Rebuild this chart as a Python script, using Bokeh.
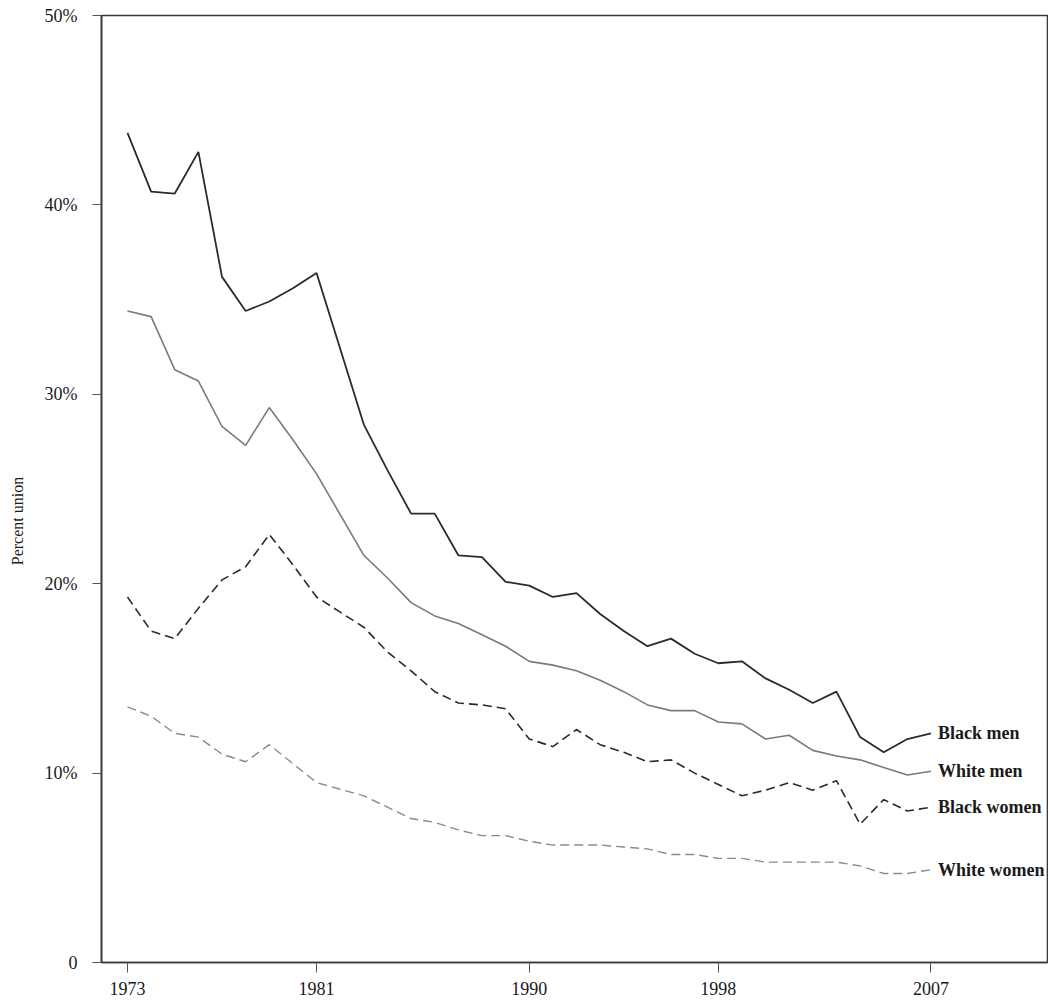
from bokeh.plotting import figure
from bokeh.models import FixedTicker, Range1d, ColumnDataSource
from bokeh.embed import file_html
from bokeh.resources import INLINE
from bokeh.core.properties import value

years = [1973, 1974, 1975, 1976, 1977, 1978, 1979, 1980, 1981,
         1983, 1984, 1985, 1986, 1987, 1988, 1989, 1990, 1991, 1992, 1993,
         1994, 1995, 1996, 1997, 1998, 1999, 2000, 2001, 2002, 2003, 2004,
         2005, 2006, 2007]
black_men = [43.8, 40.7, 40.6, 42.8, 36.2, 34.4, 34.9, 35.6, 36.4,
             28.4, 26.0, 23.7, 23.7, 21.5, 21.4, 20.1, 19.9, 19.3, 19.5, 18.4,
             17.5, 16.7, 17.1, 16.3, 15.8, 15.9, 15.0, 14.4, 13.7, 14.3, 11.9,
             11.1, 11.8, 12.1]
white_men = [34.4, 34.1, 31.3, 30.7, 28.3, 27.3, 29.3, 27.6, 25.8,
             21.5, 20.3, 19.0, 18.3, 17.9, 17.3, 16.7, 15.9, 15.7, 15.4, 14.9,
             14.3, 13.6, 13.3, 13.3, 12.7, 12.6, 11.8, 12.0, 11.2, 10.9, 10.7,
             10.3, 9.9, 10.1]
black_women = [19.3, 17.5, 17.1, 18.7, 20.2, 20.9, 22.6, 21.0, 19.3,
               17.7, 16.4, 15.4, 14.3, 13.7, 13.6, 13.4, 11.8, 11.4, 12.3, 11.5,
               11.1, 10.6, 10.7, 10.0, 9.4, 8.8, 9.1, 9.5, 9.1, 9.6, 7.3,
               8.6, 8.0, 8.2]
white_women = [13.5, 13.0, 12.1, 11.9, 11.0, 10.6, 11.5, 10.5, 9.5,
               8.8, 8.2, 7.6, 7.4, 7.0, 6.7, 6.7, 6.4, 6.2, 6.2, 6.2,
               6.1, 6.0, 5.7, 5.7, 5.5, 5.5, 5.3, 5.3, 5.3, 5.3, 5.1,
               4.7, 4.7, 4.9]
series_names = ["Black men", "White men", "Black women", "White women"]
x_ticks = [1973, 1981, 1990, 1998, 2007]
y_ticks = [0, 10, 20, 30, 40, 50]
y_tick_labels = ["0", "10%", "20%", "30%", "40%", "50%"]
y_title = "Percent union"

SERIF = "Liberation Serif"

p = figure(width=1048, height=1000, output_backend="svg", toolbar_location=None,
           x_range=Range1d(1971.9, 2011.93), y_range=Range1d(0, 50),
           min_border_left=101, min_border_right=1, min_border_top=15,
           min_border_bottom=38)
p.grid.visible = False
p.background_fill_color = "white"
p.border_fill_color = "white"
p.outline_line_color = "#3a3a3a"
p.outline_line_width = 1.6

styles = [
    (black_men, "#2b2b2b", 1.8, "solid"),
    (white_men, "#7a7a7a", 1.6, "solid"),
    (black_women, "#2b2b2b", 1.6, "9 5"),
    (white_women, "#8a8a8a", 1.4, "9 5"),
]
for vals, col, w, dash in styles:
    p.line(years, vals, line_color=col, line_width=w, line_dash=dash)

lab_src = ColumnDataSource(dict(
    x=[years[-1] + 0.3] * 4,
    y=[black_men[-1], white_men[-1], black_women[-1], white_women[-1]],
    t=series_names))
p.text(x="x", y="y", text="t", source=lab_src, text_font=value(SERIF),
       text_font_style="bold", text_font_size="18px", text_color="#1a1a1a",
       text_baseline="middle", text_align="left")

for ax in (p.xaxis[0], p.yaxis[0]):
    ax.axis_line_color = "#3a3a3a"
    ax.axis_line_width = 1.6
    ax.major_tick_line_color = "#555555"
    ax.major_tick_line_width = 1
    ax.major_tick_in = 0
    ax.minor_tick_line_color = None
    ax.major_label_text_font = SERIF
    ax.major_label_text_font_size = "18px"
    ax.major_label_text_color = "#1a1a1a"

p.xaxis.ticker = FixedTicker(ticks=x_ticks)
p.xaxis.major_tick_out = 10
p.xaxis.major_label_standoff = 9

p.yaxis.ticker = FixedTicker(ticks=y_ticks)
p.yaxis.major_label_overrides = {t: l for t, l in zip(y_ticks, y_tick_labels)}
p.yaxis.major_tick_out = 9
p.yaxis.major_label_standoff = 15
# trailing no-break spaces push the (centred) title down, as in the original
p.yaxis.axis_label = y_title + "\u00a0" * 16
p.yaxis.axis_label_text_font = SERIF
p.yaxis.axis_label_text_font_style = "normal"
p.yaxis.axis_label_text_font_size = "16px"
p.yaxis.axis_label_text_color = "#1a1a1a"
p.yaxis.axis_label_standoff = 16

open("out.html", "w").write(file_html(p, INLINE))
